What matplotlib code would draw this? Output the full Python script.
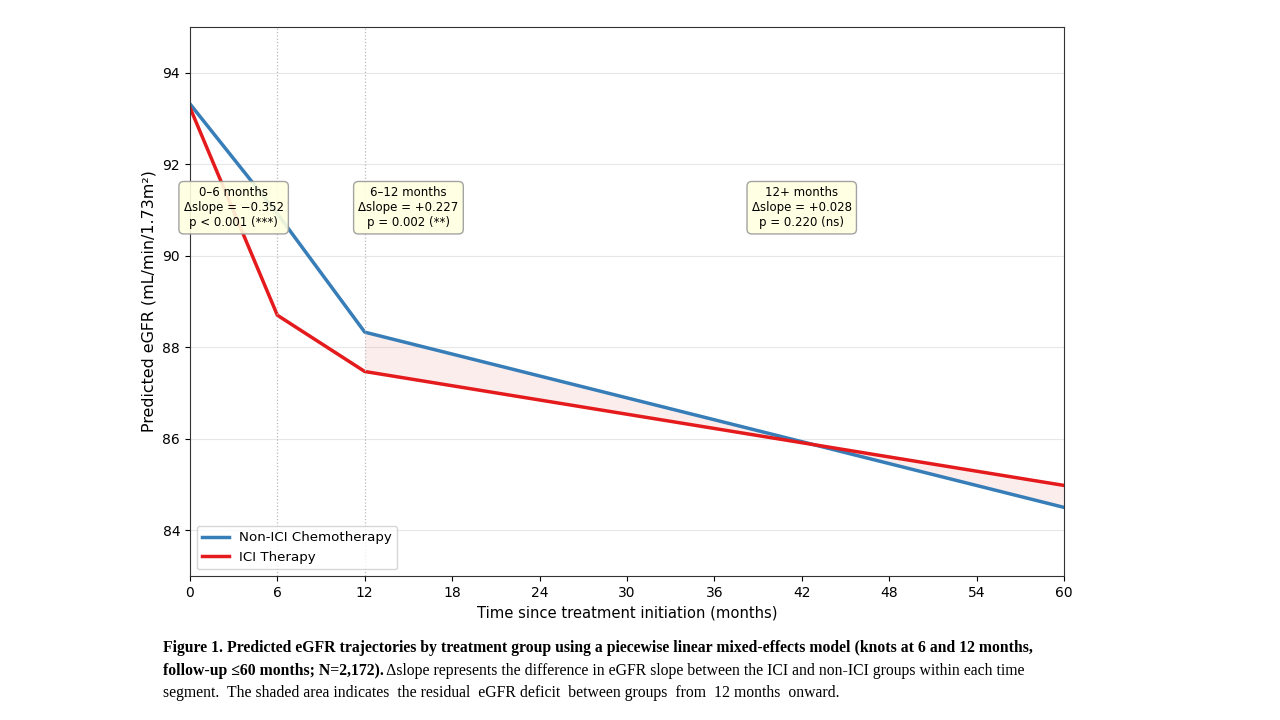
import numpy as np
import matplotlib.pyplot as plt

# knots and predicted eGFR
months = [0, 6, 12, 60]
non_ici = [93.32, 90.92, 88.33, 84.50]
ici = [93.24, 88.70, 87.47, 84.98]

seg_labels = ['0\u20136 months', '6\u201312 months', '12+ months']
seg_slopes = ['\u22120.352', '+0.227', '+0.028']
seg_p = ['p < 0.001 (***)', 'p = 0.002 (**)', 'p = 0.220 (ns)']
seg_x = [3, 15, 42]

fig = plt.figure(figsize=(12.8, 7.2), dpi=100)
ax = fig.add_axes([0.1484, 0.2, 0.6828, 0.7625])

ax.plot(months, non_ici, color='#377eb8', lw=2.5, label='Non-ICI Chemotherapy')
ax.plot(months, ici, color='#e41a1c', lw=2.5, label='ICI Therapy')

# shaded residual deficit from 12 months on
xs = np.array(months[2:])
ax.fill_between(xs, np.array(non_ici[2:]), np.array(ici[2:]), color='#e41a1c', alpha=0.08, lw=0)

for k in [6, 12]:
    ax.axvline(k, color='#bbbbbb', ls=':', lw=0.9)

for lab, s, p, x in zip(seg_labels, seg_slopes, seg_p, seg_x):
    ax.text(x, 91.05, lab + '\n\u0394slope = ' + s + '\n' + p, ha='center', va='center', fontsize=8.5,
            bbox=dict(boxstyle='round,pad=0.4', facecolor='lightyellow', edgecolor='#999999', alpha=0.9))

ax.set_xlim(0, 60)
ax.set_ylim(83, 95)
ax.set_xticks(range(0, 61, 6))
ax.set_yticks([84, 86, 88, 90, 92, 94])
ax.grid(axis='y', alpha=0.3)
for sp in ax.spines.values():
    sp.set_color('#333333')
ax.set_xlabel('Time since treatment initiation (months)', fontsize=10.6)
ax.set_ylabel('Predicted eGFR (mL/min/1.73m\u00b2)', fontsize=11.4)
ax.legend(loc='lower left', fontsize=9.6)

# caption
cap = dict(family='Liberation Serif', fontsize=11.3)
fig.text(0.127, 0.1, 'Figure 1. Predicted eGFR trajectories by treatment group using a piecewise linear '
         'mixed-effects model (knots at 6 and 12 months,', weight='bold', va='center', **cap)
t2 = fig.text(0.127, 0.068, 'follow-up \u226460 months; N=2,172).', weight='bold', va='center', **cap)
ax.annotate(' \u0394slope represents the difference in eGFR slope between the ICI and non-ICI groups within each time',
            xy=(1, 0.5), xycoords=t2, va='center', ha='left', annotation_clip=False, **cap)
fig.text(0.127, 0.037, 'segment.  The shaded area indicates  the residual  eGFR deficit  between groups  from  12 months  onward.',
         va='center', **cap)

fig.savefig('out.png', dpi=100)
